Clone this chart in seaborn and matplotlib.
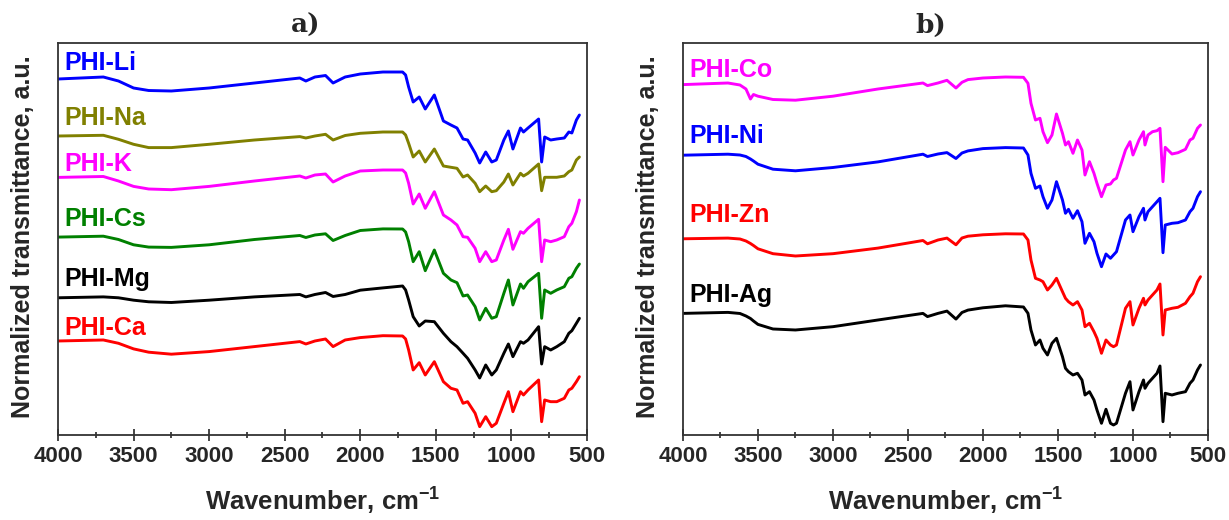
import matplotlib
matplotlib.use("Agg")
import matplotlib.pyplot as plt
import seaborn as sns
from matplotlib.ticker import MultipleLocator

# wavenumber grids (cm-1), one per panel
WN_A = [4000, 3700, 3600, 3500, 3400, 3250, 3000, 2700, 2400, 2360, 2300, 2230, 2180, 2100, 2000, 1850, 1720,
        1700, 1680, 1650, 1610, 1570, 1510, 1450, 1400, 1360, 1320, 1290, 1240, 1210, 1170, 1130, 1100,
        1050, 1020, 990, 940, 920, 890, 820, 800, 780, 740, 700, 650, 620, 600, 570, 550]

WN_B = [4000, 3700, 3620, 3580, 3550, 3530, 3500, 3400, 3250, 3000, 2700, 2400, 2370, 2300, 2240, 2180, 2140,
        2100, 2000, 1850, 1730,
        1700, 1680, 1650, 1620, 1600, 1570, 1540, 1510, 1470, 1450, 1430, 1400, 1370, 1340, 1320, 1290,
        1260, 1240, 1210, 1180, 1150, 1130, 1110, 1050, 1020, 1000, 960, 930, 920, 900, 870, 840, 820,
        800, 785, 740, 700, 650, 620, 600, 570, 550]

# panel a: stacked transmittance (a.u.)
PHI_LI = [356, 358, 354, 347, 344.5, 344, 347, 352, 357, 354, 358, 359.5, 352, 358, 361, 363, 363,
          360, 348, 333, 338, 326, 340, 314, 310, 307, 296, 295, 282, 272, 283, 273, 275,
          295, 304, 286, 307, 303, 307, 316, 273, 298, 295, 296, 297, 303, 302, 315, 320]
PHI_NA = [299, 299.7, 295.7, 290.7, 287.4, 287.4, 290.7, 295, 298.4, 297, 299, 300.7, 295, 299.5, 301.7, 303, 303,
          300, 291.7, 278, 284, 273, 286, 269, 267.7, 266.7, 258, 260, 251.7, 243.3, 249, 243.3, 244.3,
          253, 261, 250, 261.7, 259, 261.7, 271, 244.3, 257.7, 257.7, 257.7, 259, 263.3, 265, 275, 278]
PHI_K = [257.6, 258.5, 254, 248.6, 246, 245.3, 248.6, 254, 259, 257, 260, 261, 253, 259, 264, 265, 265,
         262, 251.7, 231, 241, 226.7, 243.3, 220, 215, 210, 198.3, 197.7, 186.7, 173.3, 183.3, 173.3, 175,
         195, 205.7, 185.7, 203.3, 201.7, 206.7, 215.7, 173.3, 195, 193.3, 195, 198.3, 208.3, 211.7, 223.3, 235]
PHI_CS = [197.9, 198.8, 195.5, 190.2, 187.9, 187.6, 190.2, 195.5, 199.5, 197.5, 200, 201.2, 194.5, 199.5, 204.5, 206.1, 206,
          203, 193.3, 173.3, 183.3, 164.3, 185, 161.7, 155, 152.3, 139, 140, 128.3, 115, 126.7, 116.7, 118.3,
          141.7, 155, 130, 151, 146.7, 153.3, 161.7, 116.7, 145, 141.7, 145, 148.3, 156.7, 158.3, 166.7, 171]
PHI_MG = [137.2, 138.1, 137.2, 134.8, 133.2, 132.5, 134.8, 138.1, 140.5, 138.1, 140.5, 142.5, 138.5, 140.5, 144.8, 147.1, 149,
          145, 135, 118.3, 109, 114, 113.3, 101.7, 93.3, 88.3, 81.7, 76.7, 65, 57, 70, 60, 65,
          81.7, 91, 78.3, 93.3, 91.7, 95, 108.3, 71, 88.3, 85, 88.3, 93.3, 101.7, 104.3, 111.7, 116.7]
PHI_CA = [94, 95, 91.7, 86.1, 82.8, 80.8, 83.4, 88.4, 93.4, 91, 94, 96, 88.4, 95, 97.4, 99.3, 99,
          96, 85, 65, 72.3, 60, 73.3, 53.3, 46.7, 45, 31.7, 33.3, 21.7, 8.3, 18.3, 8.3, 11.7,
          31.7, 43.3, 23.3, 43.3, 40, 45, 55, 13.3, 35, 33.3, 33.3, 36.7, 45, 46.7, 53.3, 58.3]

# panel b
PHI_CO = [350.4, 352, 350, 346, 336, 340.5, 338.8, 335.5, 334.8, 338.8, 346, 352, 349.4, 352, 354.7, 347, 352.7,
          355.4, 357, 358, 357.7,
          351.7, 331.7, 315, 316.7, 303.3, 292.3, 300, 321, 301.7, 290, 293.3, 281.7, 295, 285, 260, 273.3,
          261.7, 251.7, 238.3, 250, 251, 255, 256.7, 285, 293.3, 280, 295, 303.3, 290, 300, 303.3, 304.3, 306.7,
          253.3, 287.7, 281, 282.3, 285.7, 295, 296.7, 306.7, 310]
PHI_NI = [279.8, 280.8, 280, 278.5, 276, 274, 270.8, 265.8, 264.2, 267.5, 273.1, 280.8, 278.5, 281, 282.4, 276.5, 282,
          284.1, 286.4, 287.4, 287,
          280, 261.7, 246.7, 249, 238.3, 226.7, 235, 253.3, 235, 221.7, 225.7, 216.7, 224.3, 213.3, 191.7, 201.7,
          193.3, 181.7, 168.3, 181, 176.7, 180, 183.3, 215, 220, 203.3, 218.3, 226.7, 215, 223.3, 228.3, 233.3, 236.7,
          182.3, 210, 211.7, 212.3, 215, 223.3, 226.7, 238.3, 243.3]
PHI_ZN = [196.2, 196.9, 196, 194, 191.5, 189.5, 186.2, 181.3, 179, 181.3, 186.9, 194.5, 191.2, 195, 196.9, 190.2, 197,
          198.8, 200.2, 201.2, 201,
          195, 175, 156.7, 155, 153.3, 145, 150, 156.7, 143.3, 136.7, 133.3, 130, 133.3, 125, 108.3, 111.7,
          103.3, 96.7, 81.7, 95, 90, 88.3, 90, 126.7, 133.3, 110, 126.7, 136.7, 130, 135, 140, 145, 151,
          100, 125, 126.7, 127.7, 131.7, 138.3, 141.7, 153.3, 158.3]
PHI_AG = [121.6, 122.6, 121.5, 119, 116.5, 114, 110.6, 106, 105, 108.3, 115, 121.6, 118.4, 121.6, 123.9, 115.9, 122.5,
          124.9, 127.2, 129.2, 128,
          121.7, 105, 90, 95, 86.7, 80, 91.7, 96.7, 78.3, 66.7, 63.3, 60, 61.7, 55, 40, 43.3,
          35, 25, 11.7, 25.7, 11.7, 10, 11.7, 41.7, 53.3, 25, 43.3, 55, 46.7, 51.7, 56.7, 61.7, 69,
          13.3, 41.7, 40, 41.7, 43.3, 51.7, 55, 65, 70]

LABELS_A = ["PHI-Li", "PHI-Na", "PHI-K", "PHI-Cs", "PHI-Mg", "PHI-Ca"]
LABELS_B = ["PHI-Co", "PHI-Ni", "PHI-Zn", "PHI-Ag"]

COLORS_A = ["#0000ff", "#808000", "#ff00ff", "#008000", "#000000", "#ff0000"]
COLORS_B = ["#ff00ff", "#0000ff", "#ff0000", "#000000"]
LABEL_Y_A = [372, 317, 271, 216, 156, 107]
LABEL_Y_B = [365, 299, 220, 140]


def draw_panel(ax, wn, spectra, labels, colors, label_y, title, title_x):
    for vals, name, color, ly in zip(spectra, labels, colors, label_y):
        sns.lineplot(x=wn, y=vals, ax=ax, color=color, lw=2.1, estimator=None, sort=False)
        ax.text(3958, ly, name, color=color, fontsize=18, fontweight="bold", ha="left", va="center")

    ax.set_xlim(4000, 500)
    ax.set_ylim(0, 392)
    ax.xaxis.set_major_locator(MultipleLocator(500))
    ax.xaxis.set_minor_locator(MultipleLocator(250))
    ax.tick_params(axis="x", which="major", direction="inout", length=8, width=1.2,
                   labelsize=16, pad=4, top=False)
    ax.tick_params(axis="x", which="minor", direction="inout", length=5, width=1.2, top=False)
    ax.set_yticks([])
    for lab in ax.get_xticklabels():
        lab.set_fontweight("bold")
    for sp in ax.spines.values():
        sp.set_linewidth(1.3)
        sp.set_color("#333333")

    ax.set_xlabel("Wavenumber, cm$^{-1}$", fontsize=18.5, fontweight="bold")
    ax.xaxis.set_label_coords(0.5, -0.13)
    ax.set_ylabel("Normalized transmittance, a.u.", fontsize=18, fontweight="bold")
    ax.yaxis.set_label_coords(-0.043, 0.505)
    ax.text(title_x, 1.045, title, transform=ax.transAxes, ha="center", va="center",
            fontsize=19, fontweight="bold", family=["DejaVu Serif"])


def main():
    sns.set_style("ticks")
    plt.rcParams["font.family"] = ["Liberation Sans", "DejaVu Sans"]
    plt.rcParams["mathtext.fontset"] = "custom"
    plt.rcParams["mathtext.rm"] = "Liberation Sans:bold"
    plt.rcParams["mathtext.it"] = "Liberation Sans:bold"
    plt.rcParams["mathtext.bf"] = "Liberation Sans:bold"
    plt.rcParams["mathtext.default"] = "rm"

    fig = plt.figure(figsize=(12.29, 5.2), dpi=100)
    ax_a = fig.add_axes([0.0472, 0.1635, 0.4304, 0.7538])
    ax_b = fig.add_axes([0.5557, 0.1635, 0.4272, 0.7538])

    draw_panel(ax_a, WN_A, [PHI_LI, PHI_NA, PHI_K, PHI_CS, PHI_MG, PHI_CA],
               LABELS_A, COLORS_A, LABEL_Y_A, "a)", 0.469)
    draw_panel(ax_b, WN_B, [PHI_CO, PHI_NI, PHI_ZN, PHI_AG],
               LABELS_B, COLORS_B, LABEL_Y_B, "b)", 0.472)

    fig.savefig("out.png", dpi=100, facecolor="white")
    plt.close(fig)


if __name__ == "__main__":
    main()
